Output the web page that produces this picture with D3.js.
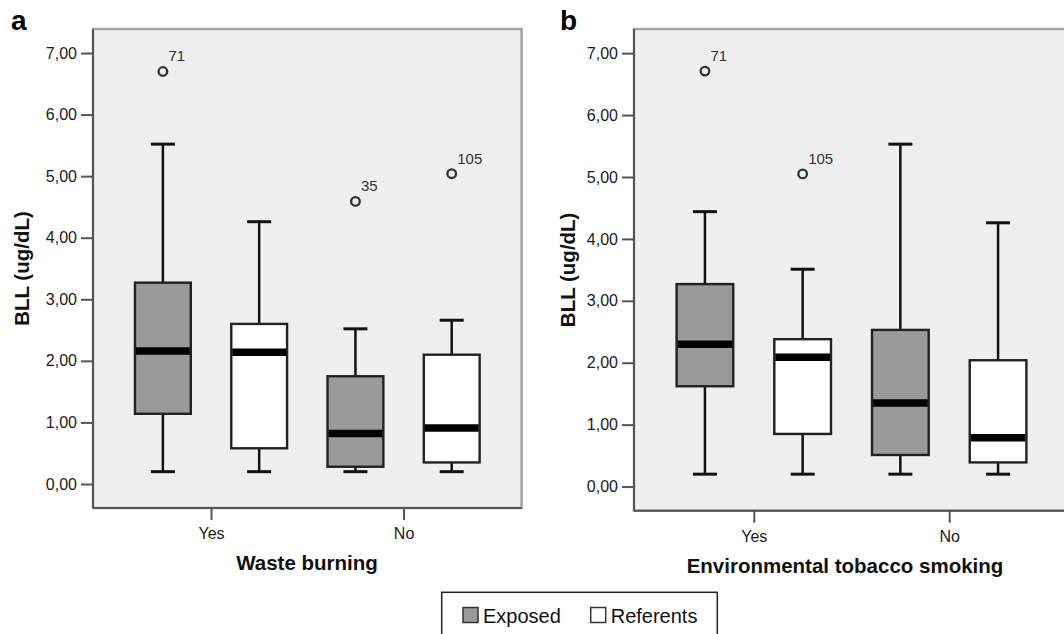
<!DOCTYPE html>
<html>
<head>
<meta charset="utf-8">
<script src="https://cdn.jsdelivr.net/npm/d3@7"></script>
<style>
  body { margin: 0; background: #fff; }
  svg { display: block; font-family: "Liberation Sans", Arial, sans-serif; }
</style>
</head>
<body>
<svg id="chart" width="1064" height="634"></svg>
<script>
// categories and groups
const categories = ["Yes", "No"];
const groups = ["Exposed", "Referents"];
const yTicks = [0, 1, 2, 3, 4, 5, 6, 7];

// box stats [min, q1, median, q3, max], order: Yes-Exposed, Yes-Referents, No-Exposed, No-Referents
const wasteStats = [
    [0.20, 1.14, 2.16, 3.27, 5.52],
    [0.20, 0.58, 2.14, 2.60, 4.26],
    [0.20, 0.28, 0.82, 1.75, 2.52],
    [0.20, 0.35, 0.91, 2.10, 2.66]
];
const wasteOutliers = [
    { category: "Yes", group: "Exposed", value: 6.70, id: "71" },
    { category: "No", group: "Exposed", value: 4.59, id: "35" },
    { category: "No", group: "Referents", value: 5.04, id: "105" }
];

const tobaccoStats = [
    [0.20, 1.62, 2.30, 3.27, 4.44],
    [0.20, 0.85, 2.09, 2.38, 3.51],
    [0.20, 0.51, 1.35, 2.53, 5.53],
    [0.20, 0.39, 0.79, 2.04, 4.26]
];
const tobaccoOutliers = [
    { category: "Yes", group: "Exposed", value: 6.71, id: "71" },
    { category: "Yes", group: "Referents", value: 5.05, id: "105" }
];

const svg = d3.select("#chart");
const fill = d3.scaleOrdinal(groups, ["#9a9a9a", "#ffffff"]);
const commaFmt = d3.formatLocale({ decimal: ",", thousands: ".", grouping: [3], currency: ["", ""] }).format(".2f");

function drawPanel(opts) {
    const { x0, x1, y0, y1, letter, letterX, title, titleX, titleY, yTitleX, stats, outliers } = opts;

    const y = d3.scaleLinear().domain([-0.39, 7.39]).range([y1, y0]);
    const x = d3.scalePoint().domain(categories).range([x0, x1]).padding(0.613);
    const step = x.step();
    const xg = d3.scaleBand().domain(groups).range([-step / 2, step / 2]);
    const boxW = step * 0.29;
    const capW = 24;

    const g = svg.append("g");

    // plot background + frame
    g.append("rect")
        .attr("x", x0).attr("y", y0)
        .attr("width", x1 - x0).attr("height", y1 - y0)
        .attr("fill", "#efefef")
        .attr("stroke", "#a3a3a3")
        .attr("stroke-width", 2.5);

    // y axis
    const yAxis = g.append("g")
        .attr("transform", `translate(${x0},0)`)
        .call(d3.axisLeft(y).tickValues(yTicks).tickFormat(commaFmt).tickSize(12).tickPadding(4));
    yAxis.select(".domain").remove();
    yAxis.selectAll(".tick line").attr("stroke", "#555").attr("stroke-width", 2);
    yAxis.selectAll(".tick text")
        .attr("fill", "#1a1a1a")
        .style("font-size", "16px");

    // x axis
    const xAxis = g.append("g")
        .attr("transform", `translate(0,${y1})`)
        .call(d3.axisBottom(x).tickSize(12).tickPadding(8));
    xAxis.select(".domain").remove();
    xAxis.selectAll(".tick line").attr("stroke", "#555").attr("stroke-width", 2);
    xAxis.selectAll(".tick text")
        .attr("fill", "#1a1a1a")
        .style("font-size", "16px");

    // left and bottom axis lines
    g.append("line")
        .attr("x1", x0).attr("x2", x0).attr("y1", y0).attr("y2", y1)
        .attr("stroke", "#555").attr("stroke-width", 2);
    g.append("line")
        .attr("x1", x0).attr("x2", x1).attr("y1", y1).attr("y2", y1)
        .attr("stroke", "#555").attr("stroke-width", 2);

    // boxes
    const boxes = [];
    categories.forEach((c, i) => {
        groups.forEach((grp, j) => {
            const s = stats[i * groups.length + j];
            boxes.push({ category: c, group: grp, min: s[0], q1: s[1], median: s[2], q3: s[3], max: s[4] });
        });
    });
    const cx = d => x(d.category) + xg(d.group) + xg.bandwidth() / 2;

    const box = g.append("g").selectAll("g")
        .data(boxes)
        .enter().append("g");

    // whiskers
    box.append("line")
        .attr("x1", cx).attr("x2", cx)
        .attr("y1", d => y(d.max)).attr("y2", d => y(d.min))
        .attr("stroke", "#111").attr("stroke-width", 2.5);
    box.append("line")
        .attr("x1", d => cx(d) - capW / 2).attr("x2", d => cx(d) + capW / 2)
        .attr("y1", d => y(d.max)).attr("y2", d => y(d.max))
        .attr("stroke", "#111").attr("stroke-width", 3);
    box.append("line")
        .attr("x1", d => cx(d) - capW / 2).attr("x2", d => cx(d) + capW / 2)
        .attr("y1", d => y(d.min)).attr("y2", d => y(d.min))
        .attr("stroke", "#111").attr("stroke-width", 3);

    // box body
    box.append("rect")
        .attr("x", d => cx(d) - boxW / 2)
        .attr("y", d => y(d.q3))
        .attr("width", boxW)
        .attr("height", d => y(d.q1) - y(d.q3))
        .attr("fill", d => fill(d.group))
        .attr("stroke", "#222")
        .attr("stroke-width", 2.4);

    // median
    box.append("line")
        .attr("x1", d => cx(d) - boxW / 2 + 1).attr("x2", d => cx(d) + boxW / 2 - 1)
        .attr("y1", d => y(d.median)).attr("y2", d => y(d.median))
        .attr("stroke", "#000").attr("stroke-width", 7.5);

    // outliers
    const out = g.append("g").selectAll("g")
        .data(outliers)
        .enter().append("g");
    out.append("circle")
        .attr("cx", cx).attr("cy", d => y(d.value))
        .attr("r", 4.3)
        .attr("fill", "none")
        .attr("stroke", "#333")
        .attr("stroke-width", 2.3);
    out.append("text")
        .attr("x", d => cx(d) + 5.5)
        .attr("y", d => y(d.value) - 10)
        .attr("fill", "#333")
        .style("font-size", "15px")
        .text(d => d.id);

    // titles
    g.append("text")
        .attr("x", titleX)
        .attr("y", titleY)
        .attr("text-anchor", "middle")
        .style("font-size", "20.5px")
        .style("font-weight", "bold")
        .attr("fill", "#111")
        .text(title);

    g.append("text")
        .attr("transform", `translate(${yTitleX},${(y0 + y1) / 2}) rotate(-90)`)
        .attr("text-anchor", "middle")
        .style("font-size", "20.5px")
        .style("font-weight", "bold")
        .attr("fill", "#111")
        .text("BLL (ug/dL)");

    g.append("text")
        .attr("x", letterX)
        .attr("y", 30)
        .style("font-size", "28px")
        .style("font-weight", "bold")
        .attr("fill", "#000")
        .text(letter);
}

drawPanel({
    x0: 93, x1: 521.6, y0: 29, y1: 508,
    letter: "a", letterX: 11,
    title: "Waste burning", titleX: 307, titleY: 570,
    yTitleX: 29,
    stats: wasteStats, outliers: wasteOutliers
});

drawPanel({
    x0: 634, x1: 1069, y0: 29, y1: 510.7,
    letter: "b", letterX: 560,
    title: "Environmental tobacco smoking", titleX: 845, titleY: 573,
    yTitleX: 574.5,
    stats: tobaccoStats, outliers: tobaccoOutliers
});

// legend
const legend = svg.append("g");
legend.append("rect")
    .attr("x", 441.7).attr("y", 592.3)
    .attr("width", 275.6).attr("height", 60)
    .attr("fill", "#fff")
    .attr("stroke", "#222")
    .attr("stroke-width", 1.5);

const itemX = d3.scaleOrdinal(groups, [463, 590.7]);
const item = legend.selectAll(".item")
    .data(groups)
    .enter().append("g")
    .attr("class", "item")
    .attr("transform", d => `translate(${itemX(d)},607.5)`);
item.append("rect")
    .attr("width", 15).attr("height", 15)
    .attr("fill", d => fill(d))
    .attr("stroke", "#333")
    .attr("stroke-width", 1.5);
item.append("text")
    .attr("x", 20)
    .attr("y", 15.2)
    .style("font-size", "20px")
    .attr("fill", "#111")
    .text(d => d);
</script>
</body>
</html>
